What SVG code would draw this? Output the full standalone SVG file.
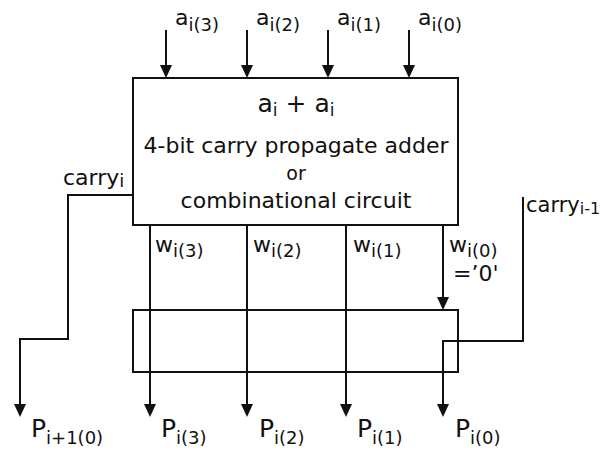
<svg xmlns="http://www.w3.org/2000/svg" width="603" height="450" viewBox="0 0 603 450">
<style>
text{font-family:"DejaVu Sans","Liberation Sans",sans-serif;fill:#111}
.box{fill:#fff;stroke:#111;stroke-width:2}
.w{fill:none;stroke:#111;stroke-width:2}
.l{font-size:22px}
.s{font-size:18px}
.c{text-anchor:middle}
</style>
<defs>
<marker id="ah" viewBox="0 0 13 12" refX="9" refY="6" markerWidth="13" markerHeight="12" markerUnits="userSpaceOnUse" orient="auto">
<path d="M0,0 L13,6 L0,12 z" fill="#111"/>
</marker>
</defs>
<rect width="603" height="450" fill="#fff"/>
<g id="register">
<rect class="box" x="133" y="310" width="325" height="62"/>
</g>
<g id="adder">
<rect class="box" x="133" y="78" width="325" height="147"/>
<text class="c" x="296" y="112" font-size="25">a<tspan font-size="17" dy="4">i</tspan><tspan dy="-4"> + a</tspan><tspan font-size="17" dy="4">i</tspan></text>
<text class="c l" x="296" y="153">4-bit carry propagate adder</text>
<text class="c" x="296" y="180" font-size="19">or</text>
<text class="c l" x="296" y="208">combinational circuit</text>
</g>
<g id="connectors">
<path class="w" marker-end="url(#ah)" d="M166,30 V74"/>
<path class="w" marker-end="url(#ah)" d="M247,30 V74"/>
<path class="w" marker-end="url(#ah)" d="M328,30 V74"/>
<path class="w" marker-end="url(#ah)" d="M409,30 V74"/>
<path class="w" marker-end="url(#ah)" d="M133,195 H68 V339 H20 V413"/>
<path class="w" marker-end="url(#ah)" d="M150,225 V413"/>
<path class="w" marker-end="url(#ah)" d="M247,225 V413"/>
<path class="w" marker-end="url(#ah)" d="M346,225 V413"/>
<path class="w" marker-end="url(#ah)" d="M443,225 V306"/>
<path class="w" marker-end="url(#ah)" d="M523,197 V341 H443 V413"/>
</g>
<g id="labels">
<text class="l" x="175" y="25">a<tspan class="s" dy="6">i(3)</tspan></text>
<text class="l" x="256" y="25">a<tspan class="s" dy="6">i(2)</tspan></text>
<text class="l" x="337" y="25">a<tspan class="s" dy="6">i(1)</tspan></text>
<text class="l" x="418" y="25">a<tspan class="s" dy="6">i(0)</tspan></text>
<text class="l" x="63" y="185">carry<tspan class="s" dy="2">i</tspan></text>
<text x="526" y="212" font-size="21">carry<tspan font-size="16" dy="2">i-1</tspan></text>
<text class="l" x="155" y="252">w<tspan class="s" dy="5">i(3)</tspan></text>
<text class="l" x="253" y="252">w<tspan class="s" dy="5">i(2)</tspan></text>
<text class="l" x="353" y="252">w<tspan class="s" dy="5">i(1)</tspan></text>
<text class="l" x="449" y="252">w<tspan class="s" dy="5">i(0)</tspan></text>
<text class="l" x="453" y="281">=’0'</text>
<text x="31" y="437" font-size="25">P<tspan class="s" dy="7">i+1(0)</tspan></text>
<text x="161" y="437" font-size="25">P<tspan class="s" dy="7">i(3)</tspan></text>
<text x="259" y="437" font-size="25">P<tspan class="s" dy="7">i(2)</tspan></text>
<text x="357" y="437" font-size="25">P<tspan class="s" dy="7">i(1)</tspan></text>
<text x="455" y="437" font-size="25">P<tspan class="s" dy="7">i(0)</tspan></text>
</g>
</svg>
